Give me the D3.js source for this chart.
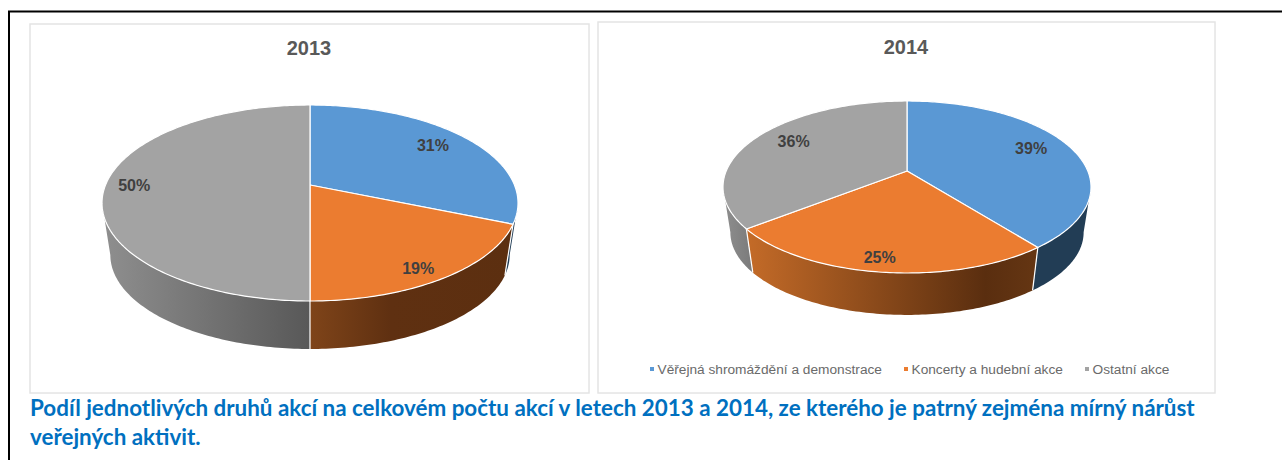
<!DOCTYPE html>
<html lang="cs">
<head>
    <meta charset="UTF-8">
    <title>Podíl druhů akcí 2013 a 2014</title>
    <script src="https://cdnjs.cloudflare.com/ajax/libs/d3/7.8.5/d3.min.js"></script>
    <style>
        html, body { margin: 0; padding: 0; background: #fff; }
        svg { display: block; }
        text { font-family: "Liberation Sans", Arial, sans-serif; }
    </style>
</head>
<body>
    <script type="text/javascript">
        var categories = ["Věřejná shromáždění a demonstrace", "Koncerty a hudební akce", "Ostatní akce"];
        var values2013 = [31.3, 18.7, 50];
        var values2014 = [39.4, 25, 35.6];
        var captionLines = [
            "Podíl jednotlivých druhů akcí na celkovém počtu akcí v letech 2013 a 2014, ze kterého je patrný zejména mírný nárůst",
            "veřejných aktivit."
        ];

        var colors = ["#5a98d4", "#eb7c30", "#a3a3a3"];

        var layout2013 = {
            id: "y13", title: "2013", box: [30, 24, 589, 393], titleX: 309, titleY: 48,
            cx: 310, cy: 185, rx: 208, front: 116, back: 80, wallDrop: 237.6, wallScale: 0.96,
            labelR: [0.78, 0.88, 0.86],
            labelNudge: [[0, -2], [-7, 3], [0, 0]],
            walls: [
                [[0, "#213d56"], [1, "#213d56"]],
                [[0, "#7f4419"], [0.4, "#5f3011"], [1, "#5c2f10"]],
                [[0, "#8f8f8f"], [1, "#585858"]]
            ]
        };
        var layout2014 = {
            id: "y14", title: "2014", box: [598, 22, 1215, 393], titleX: 906, titleY: 47,
            cx: 907, cy: 171, rx: 184, front: 102, back: 70, wallDrop: 217, wallScale: 0.96,
            labelR: [0.76, 0.87, 0.76],
            labelNudge: [[0, -3], [-5, 1], [3, -4]],
            walls: [
                [[0, "#223d55"], [1, "#223d55"]],
                [[0, "#c46b28"], [0.82, "#5a2e0f"], [1, "#653613"]],
                [[0, "#8f8f8f"], [1, "#7a7a7a"]]
            ]
        };

        var w = 1282;
        var h = 460;
        var svg = d3.select("body").append("svg").attr("width", w).attr("height", h);
        var defs = svg.append("defs");

        // outer frame
        svg.append("path")
            .attr("d", "M9,461V11.5H1283")
            .attr("fill", "none")
            .attr("stroke", "#000")
            .attr("stroke-width", 2);

        var color = d3.scaleOrdinal().domain(categories).range(colors);
        var pie = d3.pie().sort(null);

        function drawPanel(values, o) {
            var g = svg.append("g");

            g.append("rect")
                .attr("x", o.box[0])
                .attr("y", o.box[1])
                .attr("width", o.box[2] - o.box[0])
                .attr("height", o.box[3] - o.box[1])
                .attr("fill", "#fff")
                .attr("stroke", "#e4e4e4")
                .attr("stroke-width", 1.5);

            g.append("text")
                .attr("x", o.titleX)
                .attr("y", o.titleY)
                .attr("dy", "0.36em")
                .attr("text-anchor", "middle")
                .attr("font-size", "20px")
                .attr("font-weight", "bold")
                .attr("fill", "#595959")
                .text(o.title);

            // the pie is tilted in perspective, so the centre is not the middle of the rim
            var k = (o.front - o.back) / (o.front + o.back);
            var b = o.front * (1 - k);
            var a = o.rx * Math.sqrt(1 - k * k);
            var xScale = d3.scaleLinear().domain([-1, 1]).range([o.cx - a, o.cx + a]);
            var yScale = d3.scaleLinear().domain([-1, 1]).range([o.cy - b, o.cy + b]);
            var xWall = d3.scaleLinear().domain([-1, 1]).range([o.cx - a * o.wallScale, o.cx + a * o.wallScale]);
            var yWall = d3.scaleLinear().domain([-1, 1]).range([o.wallDrop - b * o.wallScale, o.wallDrop + b * o.wallScale]);

            function rim(angle, r, sx, sy) {
                var px = r * Math.sin(angle);
                var py = -r * Math.cos(angle);
                var persp = 1 - k * py;
                return [sx(px / persp), sy(py / persp)];
            }
            function arcPoints(a0, a1, sx, sy) {
                var n = Math.max(2, Math.ceil((a1 - a0) * 60));
                return d3.range(n + 1).map(function(i) {
                    return rim(a0 + (a1 - a0) * i / n, 1, sx, sy);
                });
            }

            var line = d3.line();
            var slices = pie(values);
            var visibleFrom = Math.PI / 2 + Math.asin(k);
            var visibleTo = 3 * Math.PI / 2 - Math.asin(k);

            // walls first, the top faces go over them
            slices.forEach(function(d, i) {
                var a0 = Math.max(d.startAngle, visibleFrom);
                var a1 = Math.min(d.endAngle, visibleTo);
                if (a1 <= a0) return;

                var top = arcPoints(a0, a1, xScale, yScale);
                var bottom = arcPoints(a0, a1, xWall, yWall).reverse();
                var xs = top.concat(bottom).map(function(p) { return p[0]; });
                var left = d3.min(xs);
                var right = d3.max(xs);
                var stops = o.walls[i];
                var id = o.id + "-wall-" + i;

                var grad = defs.append("linearGradient")
                    .attr("id", id)
                    .attr("gradientUnits", "userSpaceOnUse")
                    .attr("x1", left)
                    .attr("x2", right)
                    .attr("y1", 0)
                    .attr("y2", 0);
                grad.selectAll("stop")
                    .data(stops)
                    .enter()
                    .append("stop")
                    .attr("offset", function(s) { return s[0]; })
                    .attr("stop-color", function(s) { return s[1]; });

                g.append("path")
                    .attr("d", line(top.concat(bottom)) + "Z")
                    .attr("fill", "url(#" + id + ")");
            });

            // white seams on the wall
            slices.forEach(function(d) {
                if (d.startAngle < visibleFrom || d.startAngle > visibleTo) return;
                g.append("path")
                    .attr("d", line([rim(d.startAngle, 1, xScale, yScale), rim(d.startAngle, 1, xWall, yWall)]))
                    .attr("stroke", "#fff")
                    .attr("stroke-width", 1.2)
                    .attr("fill", "none");
            });

            g.selectAll("path.face")
                .data(slices)
                .enter()
                .append("path")
                .attr("class", "face")
                .attr("d", function(d) {
                    var pts = [[xScale(0), yScale(0)]].concat(arcPoints(d.startAngle, d.endAngle, xScale, yScale));
                    return line(pts) + "Z";
                })
                .attr("fill", function(d, i) { return color(categories[i]); })
                .attr("stroke", "#fff")
                .attr("stroke-width", 1.2)
                .attr("stroke-linejoin", "round");

            g.selectAll("text.pct")
                .data(slices)
                .enter()
                .append("text")
                .attr("class", "pct")
                .attr("transform", function(d, i) {
                    var p = rim((d.startAngle + d.endAngle) / 2, o.labelR[i], xScale, yScale);
                    return "translate(" + (p[0] + o.labelNudge[i][0]) + "," + (p[1] + o.labelNudge[i][1]) + ")";
                })
                .attr("dy", "0.36em")
                .attr("text-anchor", "middle")
                .attr("font-size", "16px")
                .attr("font-weight", "bold")
                .attr("fill", "#404040")
                .text(function(d) { return Math.round(d.value) + "%"; });
        }

        drawPanel(values2013, layout2013);
        drawPanel(values2014, layout2014);

        // legend sits in the 2014 panel only
        var legendX = d3.scaleOrdinal().domain(categories).range([657.5, 911.5, 1092.5]);
        var legend = svg.append("g")
            .selectAll("g")
            .data(categories)
            .enter()
            .append("g")
            .attr("transform", function(d) { return "translate(" + legendX(d) + ",369)"; });
        legend.append("rect")
            .attr("x", -7.5)
            .attr("y", -2)
            .attr("width", 4)
            .attr("height", 4)
            .attr("fill", function(d) { return color(d); });
        legend.append("text")
            .attr("dy", "0.36em")
            .attr("font-size", "13.7px")
            .attr("fill", "#6a6a6a")
            .text(function(d) { return d; });

        // caption under the panels
        svg.selectAll("text.caption")
            .data(captionLines)
            .enter()
            .append("text")
            .attr("class", "caption")
            .attr("x", 30)
            .attr("y", function(d, i) { return 416 + i * 29; })
            .attr("font-size", "22.4px")
            .attr("font-weight", "bold")
            .style("font-family", "Lato, sans-serif")
            .attr("fill", "#0070c0")
            .text(function(d) { return d; });
    </script>
</body>
</html>
